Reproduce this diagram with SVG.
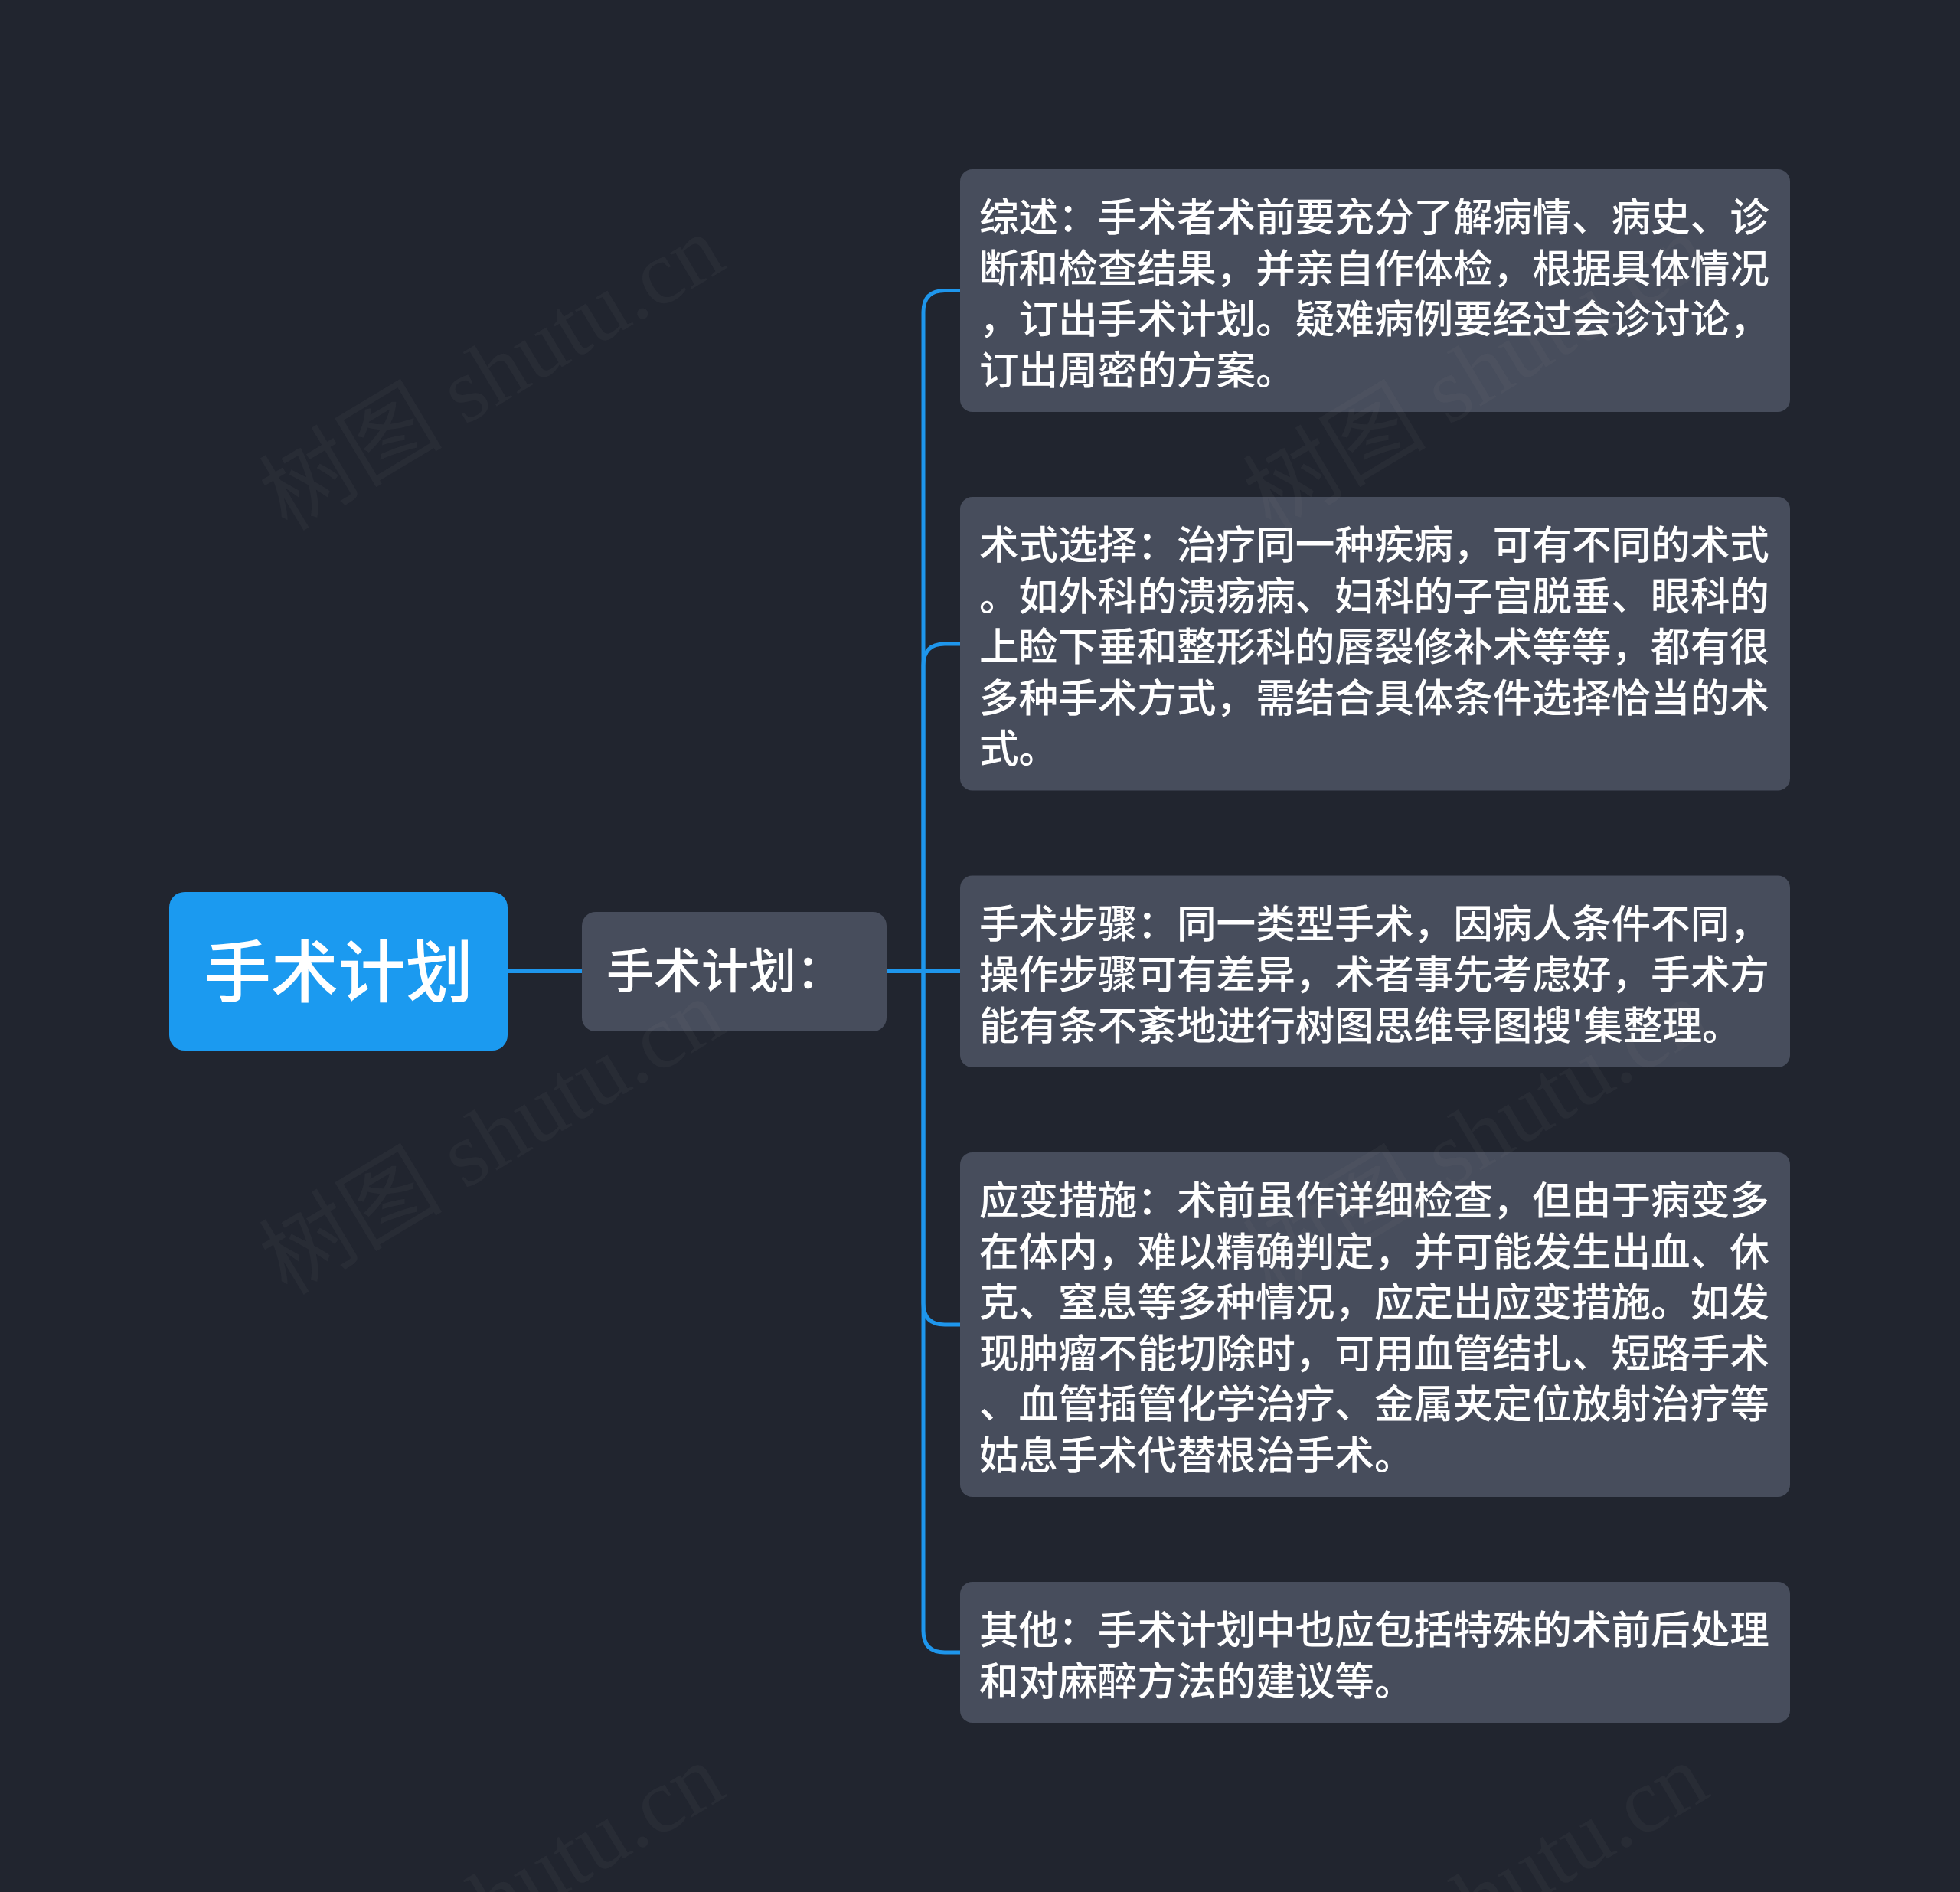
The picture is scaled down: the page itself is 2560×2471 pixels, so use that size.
<svg xmlns="http://www.w3.org/2000/svg" width="2560" height="2471" viewBox="0 0 2560 2471">
<defs>
<style>
.bg{fill:#21252f}
.leaf{fill:#474d5c}
.root{fill:#1b9af0}
.sub{fill:#474d5c}
.conn{fill:none;stroke:#1e96ec;stroke-width:5;stroke-linecap:butt;stroke-linejoin:round}
.t{font-family:"Noto Sans CJK SC","Noto Sans",sans-serif;fill:#ffffff;font-weight:500}
.lt{font-size:51.6px}
.wm{font-family:"Liberation Serif","Noto Sans CJK SC",serif;font-size:120px;fill:#969696;fill-opacity:0.065}
</style>
</defs>
<rect class="bg" x="0" y="0" width="2560" height="2471"/>
<g id="connectors">
<path class="conn" d="M663,1268.5 H760"/>
<path class="conn" d="M1158,1268.5 H1206 V407.5 Q1206,379.5 1234,379.5 H1254"/>
<path class="conn" d="M1158,1268.5 H1206 V869 Q1206,841 1234,841 H1254"/>
<path class="conn" d="M1158,1268.5 H1254"/>
<path class="conn" d="M1158,1268.5 H1206 V1702 Q1206,1730 1234,1730 H1254"/>
<path class="conn" d="M1158,1268.5 H1206 V2130 Q1206,2158 1234,2158 H1254"/>
</g>
<g id="node-root">
<rect class="root" x="221" y="1165" width="442" height="207" rx="20"/>
<text class="t" x="442" y="1301" font-size="88" text-anchor="middle">手术计划</text>
</g>
<g id="node-sub">
<rect class="sub" x="760" y="1191" width="398" height="156" rx="18"/>
<text class="t" x="792" y="1291" font-size="62">手术计划：</text>
</g>
<g id="node-leaf1">
<rect class="leaf" x="1254" y="221" width="1084" height="317" rx="16"/>
<text class="t lt" x="1279" y="302">
<tspan x="1279" y="302">综述：手术者术前要充分了解病情、病史、诊</tspan>
<tspan x="1279" y="368.5">断和检查结果，并亲自作体检，根据具体情况</tspan>
<tspan x="1279" y="435">，订出手术计划。疑难病例要经过会诊讨论，</tspan>
<tspan x="1279" y="501.5">订出周密的方案。</tspan>
</text>
</g>
<g id="node-leaf2">
<rect class="leaf" x="1254" y="649" width="1084" height="383.5" rx="16"/>
<text class="t lt" x="1279" y="730">
<tspan x="1279" y="730">术式选择：治疗同一种疾病，可有不同的术式</tspan>
<tspan x="1279" y="796.5">。如外科的溃疡病、妇科的子宫脱垂、眼科的</tspan>
<tspan x="1279" y="863">上睑下垂和整形科的唇裂修补术等等，都有很</tspan>
<tspan x="1279" y="929.5">多种手术方式，需结合具体条件选择恰当的术</tspan>
<tspan x="1279" y="996">式。</tspan>
</text>
</g>
<g id="node-leaf3">
<rect class="leaf" x="1254" y="1143.5" width="1084" height="250.5" rx="16"/>
<text class="t lt" x="1279" y="1224.5">
<tspan x="1279" y="1224.5">手术步骤：同一类型手术，因病人条件不同，</tspan>
<tspan x="1279" y="1291">操作步骤可有差异，术者事先考虑好，手术方</tspan>
<tspan x="1279" y="1357.5">能有条不紊地进行树图思维导图搜'集整理。</tspan>
</text>
</g>
<g id="node-leaf4">
<rect class="leaf" x="1254" y="1505" width="1084" height="450" rx="16"/>
<text class="t lt" x="1279" y="1586">
<tspan x="1279" y="1586">应变措施：术前虽作详细检查，但由于病变多</tspan>
<tspan x="1279" y="1652.5">在体内，难以精确判定，并可能发生出血、休</tspan>
<tspan x="1279" y="1719">克、窒息等多种情况，应定出应变措施。如发</tspan>
<tspan x="1279" y="1785.5">现肿瘤不能切除时，可用血管结扎、短路手术</tspan>
<tspan x="1279" y="1852">、血管插管化学治疗、金属夹定位放射治疗等</tspan>
<tspan x="1279" y="1918.5">姑息手术代替根治手术。</tspan>
</text>
</g>
<g id="node-leaf5">
<rect class="leaf" x="1254" y="2066" width="1084" height="184" rx="16"/>
<text class="t lt" x="1279" y="2147">
<tspan x="1279" y="2147">其他：手术计划中也应包括特殊的术前后处理</tspan>
<tspan x="1279" y="2213.5">和对麻醉方法的建议等。</tspan>
</text>
</g>
<g id="watermarks">
<text class="wm" transform="translate(375,695) rotate(-31)">树图 shutu.cn</text>
<text class="wm" transform="translate(1660,695) rotate(-31)">树图 shutu.cn</text>
<text class="wm" transform="translate(375,1693) rotate(-31)">树图 shutu.cn</text>
<text class="wm" transform="translate(1660,1693) rotate(-31)">树图 shutu.cn</text>
<text class="wm" transform="translate(375,2691) rotate(-31)">树图 shutu.cn</text>
<text class="wm" transform="translate(1660,2691) rotate(-31)">树图 shutu.cn</text>
</g>
</svg>
